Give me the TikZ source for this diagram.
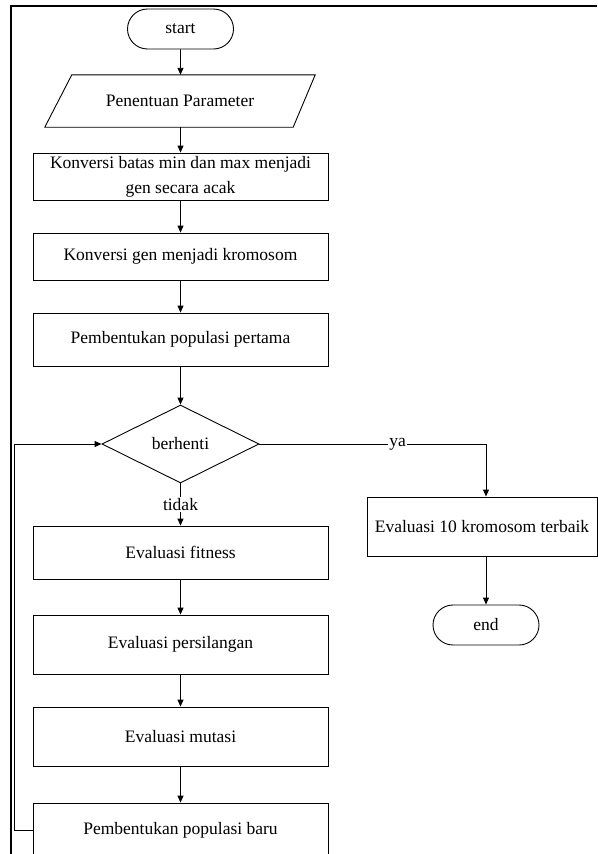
\documentclass[tikz,border=0pt]{standalone}
\usepackage{fontspec}
\setmainfont{Liberation Serif}
\usetikzlibrary{shapes.geometric,shapes.misc,arrows.meta}
\begin{document}
\begin{tikzpicture}[x=1pt,y=-1pt,
  every node/.style={font=\fontsize{17.5}{25}\selectfont, inner sep=0pt},
  line/.style={line width=0.9pt, draw=black},
  arr/.style={line, -{Triangle[length=7pt,width=6pt]}},
  procbox/.style={rectangle, line, minimum width=295pt, align=center},
  term/.style={rounded rectangle, line, minimum width=106pt, minimum height=40pt},
  iobox/.style={rectangle, minimum width=270pt, minimum height=52pt},
  decision/.style={diamond, line, minimum width=157pt, minimum height=78pt, aspect=2},
  lbl/.style={fill=white, inner sep=1pt}
]
\useasboundingbox (0,0) rectangle (597,854);
\draw[line width=2pt] (597,6) -- (11,6) -- (11,854);

\node[term] (start) at (180.5,29) {start};
\node[iobox] (param) at (180,101) {Penentuan Parameter};
\draw[line] (param.south west) -- ([xshift=27pt]param.north west) -- (param.north east) -- ([xshift=-22pt]param.south east) -- cycle;
\node[procbox, minimum height=47pt] (k1) at (180.5,176.5) {Konversi batas min dan max menjadi\\gen secara acak};
\node[procbox, minimum height=47pt] (k2) at (180.5,256.5) {Konversi gen menjadi kromosom};
\node[procbox, minimum height=53pt] (p1) at (180.5,339.5) {Pembentukan populasi pertama};
\node[decision] (stop) at (180.5,444) {berhenti};
\node[procbox, minimum height=53pt] (fit) at (180.5,552.5) {Evaluasi fitness};
\node[procbox, minimum height=59pt] (cross) at (180.5,644.5) {Evaluasi persilangan};
\node[procbox, minimum height=59pt] (mut) at (180.5,736.5) {Evaluasi mutasi};
\node[procbox, minimum height=55pt] (newpop) at (180.5,830.5) {Pembentukan populasi baru};
\node[rectangle, line, minimum width=230pt, minimum height=59pt] (best) at (482,526.5) {Evaluasi 10 kromosom terbaik};
\node[term] (end) at (486,625) {end};

\coordinate (loopx) at (14,0);
\coordinate (yaturn) at (486,444);

\draw[arr] (start) -- (start |- param.north);
\draw[arr] (start |- param.south) -- (k1);
\draw[arr] (k1) -- (k2);
\draw[arr] (k2) -- (p1);
\draw[arr] (p1) -- (stop);
\draw[arr] (stop) -- node[lbl] {tidak} (fit);
\draw[arr] (fit) -- (cross);
\draw[arr] (cross) -- (mut);
\draw[arr] (mut) -- (newpop);
\draw[arr] (newpop.west) -- (newpop.west -| loopx) |- (stop.west);
\draw[arr] (stop.east) -- node[lbl, pos=0.61] {ya} (yaturn) -- (yaturn |- best.north);
\draw[arr] (yaturn |- best.south) -- (end.north);
\end{tikzpicture}
\end{document}
